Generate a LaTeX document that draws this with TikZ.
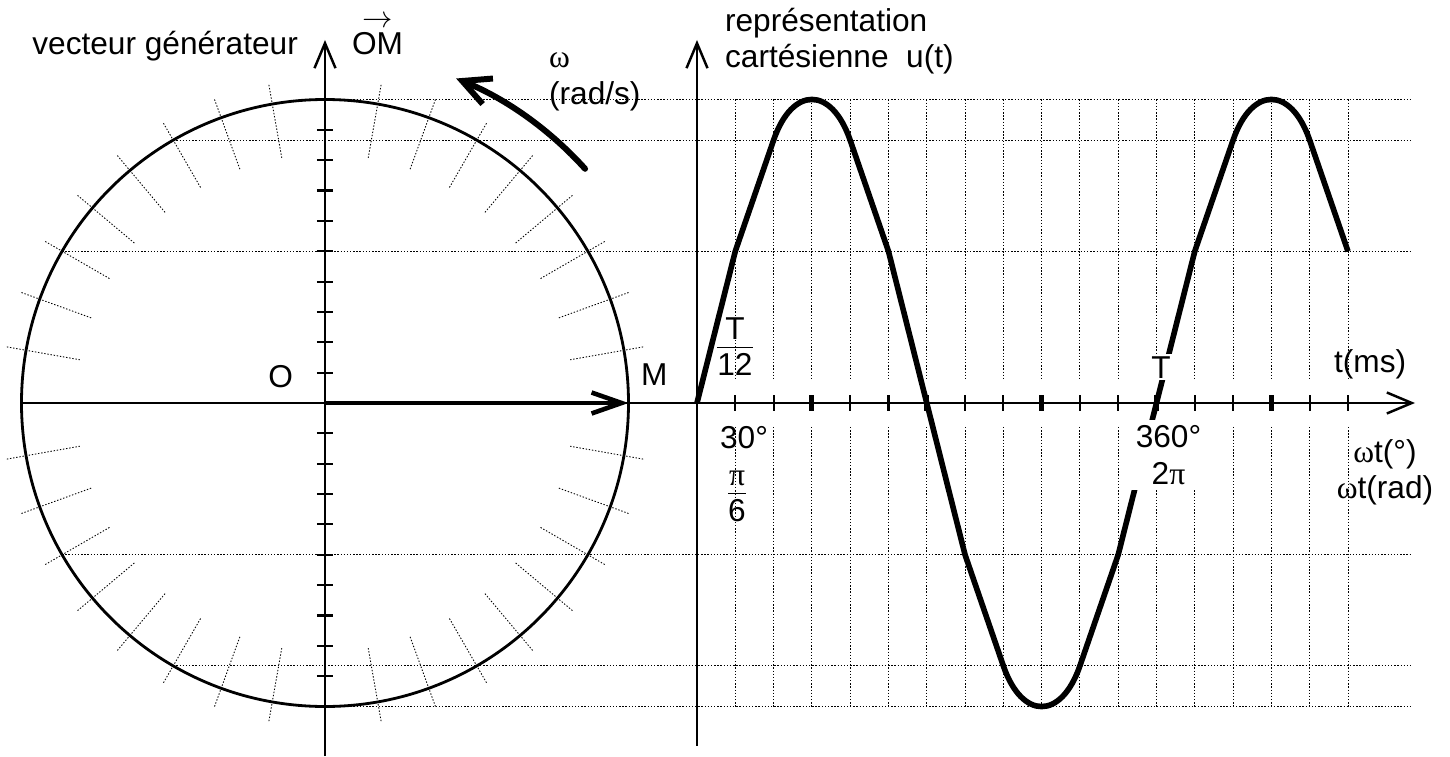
\documentclass[tikz,border=0pt]{standalone}
\usepackage{amsmath}
\usepackage{fontspec}
\setmainfont{Liberation Sans}
\newfontfamily\grk{Liberation Serif}
\usetikzlibrary{arrows.meta,calc}
\newcommand{\bas}[1]{\raisebox{-3pt}[\height][0pt]{#1}}
\newcommand{\vect}[1]{\makebox[0pt][l]{\hspace{0.33em}\raisebox{0.86em}{$\rightarrow$}}#1}

\begin{document}
\begin{tikzpicture}[
    font=\fontsize{18}{21}\selectfont,
    txt/.style={inner sep=1pt},
    axe/.style={line width=1.4pt},
    fleche/.style={-{Straight Barb[length=0.5cm,width=0.42cm]}},
    pointille/.style={line width=0.5pt, dash pattern=on 0.8pt off 1pt},
    repere/.style={line width=1.2pt},
    courbe/.style={line width=3.2pt, line join=round}
  ]
\useasboundingbox (-6.5,-7.06) rectangle (22.5,8.06);
\def\R{6.07}
% axis
\coordinate (O) at (0,0);
\coordinate (M) at (\R,0);
\coordinate (A) at (-\R,0);
\coordinate (xfin) at (21.8,0);
\coordinate (ybas) at (0,-7.06);
\coordinate (yhaut) at (0,7.26);
\coordinate (G) at (7.44,0);
\coordinate (Gbas) at (7.44,-6.85);
\coordinate (Ghaut) at (7.44,7.26);
% projections
\foreach \a in {90,120,150,210,240,270}
  \path[draw, pointille] (\a:\R) -- (21.74,{\R*sin(\a)});
% graduations of the circle
\foreach \a in {10,20,...,80,100,110,...,170,190,200,...,260,280,290,...,350}
  \path[draw, pointille] ({\a}:{0.82*\R}) -- ({\a}:{1.07*\R});
% grid and curve
\begin{scope}[shift={(G)}, x=0.025533cm, y=6.07cm]
  \foreach \k in {30,60,...,510}
    \path[draw, pointille] (\k,1) -- (\k,0.076) (\k,-0.079) -- (\k,-1);
  \foreach \k in {30,60,...,510}
    \path[draw, repere] (\k,-0.025) -- (\k,0.025);
  \foreach \k in {90,180,270,360,450}
    \path[draw, line width=2.8pt] (\k,-0.025) -- (\k,0.025);
  \path[draw, courbe] (0,0) -- (30,.5) -- (60,.866)
    .. controls (74.7,1.045) and (105.3,1.045) .. (120,.866) -- (150,.5) -- (210,-.5) -- (240,-.866)
    .. controls (254.7,-1.045) and (285.3,-1.045) .. (300,-.866) -- (330,-.5) -- (390,.5) -- (420,.866)
    .. controls (434.7,1.045) and (465.3,1.045) .. (480,.866) -- (510,.5);
\end{scope}
% circle
\path[draw, line width=1.6pt] (O) circle[radius=\R];
\path[draw, axe, fleche] (A) -- (xfin);
\path[draw, axe, fleche] (ybas) -- (yhaut);
\path[draw, axe, fleche] (Gbas) -- (Ghaut);
\foreach \i in {-9,...,-1,1,2,...,9}
  \path[draw, repere] (-0.16,{0.1*\i*\R}) -- (0.16,{0.1*\i*\R});
% vector and rotation
\path[draw, line width=2.6pt, -{Straight Barb[length=0.6cm,width=0.42cm]}] (O) -- (M);
\coordinate (w0) at (42:7);
\path[draw, line width=3.4pt, line cap=round, -{Straight Barb[length=0.55cm,width=0.55cm]}] (w0) arc[start angle=42, end angle=68, radius=7];
% labels
\node[txt, anchor=base east] (gen) at (-0.5,6.96) {vecteur générateur};
\node[txt, anchor=base west] (om) at (0.5,6.96) {\vect{OM}};
\node[txt, anchor=base west] (w) at (4.44,6.70) {\grk ω};
\node[txt, anchor=base west] (rads) at (4.44,5.96) {(rad/s)};
\node[txt, anchor=base west] (rep1) at (7.96,7.42) {représentation};
\node[txt, anchor=base west] (rep2) at (7.96,6.70) {cartésienne~~u(t)};
\node[txt, anchor=base east] (nO) at (-0.6,0.32) {O};
\node[txt, anchor=base west] (nM) at (6.28,0.36) {M};
\node[txt, anchor=base] (T12) at (8.2,0.96) {$\displaystyle\frac{\mbox{\bas{T}}}{\mbox{12}}$};
\node[txt, anchor=base west] (d30) at (7.86,-0.90) {30°};
\node[txt, anchor=base] (pi6) at (8.24,-1.96) {$\displaystyle\frac{\mbox{\bas{\grk π}}}{\mbox{6}}$};
\node[txt, anchor=base, fill=white] (nT) at (16.72,0.5) {T};
\node[txt, anchor=north, fill=white, align=center, inner sep=0.1cm] (d360) at (16.87,-0.34) {360°\\2{\grk π}};
\node[txt, anchor=base west] (tms) at (20.14,0.62) {t(ms)};
\node[txt, anchor=north, align=center] (wt) at (21.2,-0.68) {{\grk ω}t(°)\\{\grk ω}t(rad)};
\end{tikzpicture}
\end{document}
